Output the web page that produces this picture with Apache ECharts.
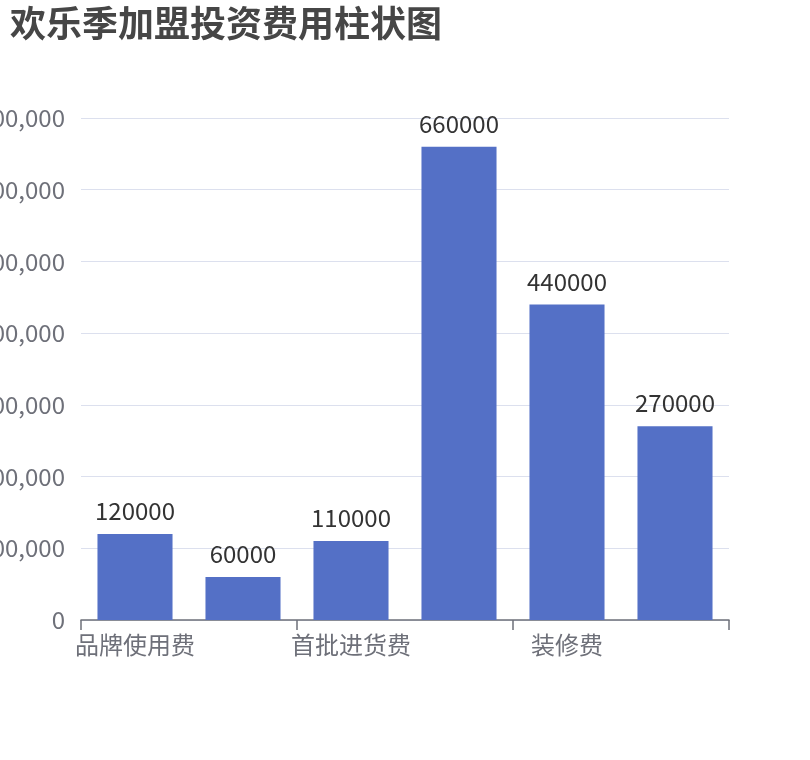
<!DOCTYPE html>
<html>
<head>
<meta charset="utf-8">
<script src="https://cdn.jsdelivr.net/npm/echarts@6/dist/echarts.min.js"></script>
<style>html,body{margin:0;padding:0;background:#fff}#c{width:810px;height:760px}</style>
</head>
<body>
<div id="c"></div>
<script>
const titleText = '欢乐季加盟投资费用柱状图';
const categories = ['品牌使用费', '加盟保证金', '首批进货费', '店铺租金', '装修费', '设备费用'];
const values = [120000, 60000, 110000, 660000, 440000, 270000];

const chart = echarts.init(document.getElementById('c'));
chart.setOption({
  animation: false,
  title: {
    text: titleText,
    left: 5, top: 0,
    textStyle: { fontSize: 36, fontWeight: 'bold', color: '#464646', fontFamily: 'Noto Sans CJK SC' }
  },
  grid: { left: 81, right: 81, top: 118, bottom: 140, containLabel: false, outerBoundsMode: 'none' },
  xAxis: {
    type: 'category',
    data: categories,
    axisLine: { lineStyle: { color: '#6E7079', width: 1.5 } },
    axisTick: { show: true, length: 10, lineStyle: { color: '#6E7079', width: 1.5 } },
    axisLabel: { fontSize: 24, color: '#6E7079', margin: 13, fontFamily: 'Noto Sans CJK SC' }
  },
  yAxis: {
    type: 'value',
    min: 0, max: 700000, interval: 100000,
    axisLabel: { fontSize: 24, color: '#6E7079', margin: 16, fontFamily: 'Noto Sans CJK SC',
      formatter: v => v.toLocaleString('en-US') },
    splitLine: { lineStyle: { color: '#DCE0EE', width: 1 } }
  },
  series: [{
    type: 'bar',
    data: values,
    barWidth: '69.5%',
    itemStyle: { color: '#5470c6' },
    label: { show: true, position: 'top', distance: 11, fontSize: 24, color: '#333', fontFamily: 'Noto Sans CJK SC' }
  }]
});
</script>
</body>
</html>
